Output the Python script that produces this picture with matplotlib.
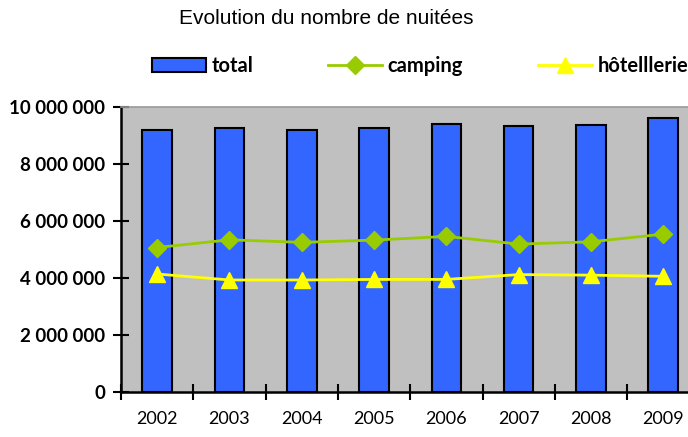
import matplotlib
matplotlib.use("Agg")
import matplotlib.pyplot as plt
from matplotlib.ticker import FuncFormatter, FixedLocator
import numpy as np

years = ["2002", "2003", "2004", "2005", "2006", "2007", "2008", "2009"]
total = [9.20e6, 9.26e6, 9.18e6, 9.28e6, 9.41e6, 9.32e6, 9.38e6, 9.62e6]
camping = [5.07e6, 5.34e6, 5.25e6, 5.33e6, 5.46e6, 5.19e6, 5.27e6, 5.54e6]
hotellerie = [4.14e6, 3.93e6, 3.93e6, 3.95e6, 3.95e6, 4.12e6, 4.10e6, 4.06e6]
y_ticks = [0, 2e6, 4e6, 6e6, 8e6, 10e6]

W, H = 688, 437
fig = plt.figure(figsize=(W / 100, H / 100), dpi=100)
fig.patch.set_facecolor("white")

# Plot area runs past the right edge of the figure
ax = fig.add_axes([121 / W, 45 / H, 578.4 / W, 285 / H])
ax.set_facecolor("#C0C0C0")

x = np.arange(len(years))
bars = ax.bar(x, total, width=0.41, color="#3366FF", edgecolor="black",
              linewidth=1.5, zorder=2, label="total")
ln_c, = ax.plot(x, camping, color="#99CC00", lw=2, marker="D", ms=9.5,
                zorder=3, label="camping")
ln_h, = ax.plot(x, hotellerie, color="#FFFF00", lw=2, marker="^", ms=12,
                zorder=3, label="hôtelllerie")

ax.set_xlim(-0.5, len(years) - 0.5)
ax.set_ylim(0, 10e6)

ax.yaxis.set_major_locator(FixedLocator(y_ticks))
ax.yaxis.set_major_formatter(
    FuncFormatter(lambda v, p: f"{int(v):,}".replace(",", " ")))
ax.tick_params(axis="y", direction="inout", length=11, width=1.5, pad=6,
               labelsize=13.5)
for t in ax.get_yticklabels():
    t.set_fontfamily("Lato")
    t.set_fontweight("bold")

# category boundaries carry the tick marks, labels sit in the middle
ax.xaxis.set_major_locator(FixedLocator(np.arange(-0.5, len(years), 1.0)))
ax.xaxis.set_major_formatter(FuncFormatter(lambda v, p: ""))
ax.xaxis.set_minor_locator(FixedLocator(x))
ax.set_xticklabels(years, minor=True)
ax.tick_params(axis="x", which="major", direction="inout", length=11,
               width=1.5)
ax.tick_params(axis="x", which="minor", length=0, pad=14, labelsize=13)
for t in ax.get_xticklabels(minor=True):
    t.set_fontfamily("Lato")

for side in ("left", "bottom"):
    ax.spines[side].set_linewidth(1.8)
    ax.spines[side].set_color("black")
ax.spines["top"].set_color("#9A9A9A")
ax.spines["top"].set_linewidth(1.2)
ax.spines["right"].set_visible(False)

fig.text(326 / W, 1 - 18 / H, "Evolution du nombre de nuitées",
         ha="center", va="center", fontsize=15, family="Liberation Sans")

# one legend entry per series, each placed on the header row
leg_prop = {"family": "Lato", "weight": "bold", "size": 14.5}
entries = [(bars, "total", 152), (ln_c, "camping", 328),
           (ln_h, "hôtelllerie", 538)]
for handle, name, x0 in entries:
    lg = fig.legend(handles=[handle], labels=[name], loc="center left",
                    bbox_to_anchor=(x0 / W, 1 - 66 / H), frameon=False,
                    handlelength=2.7, handletextpad=0.25, borderaxespad=0,
                    borderpad=0, prop=leg_prop)

fig.savefig("out.png", dpi=100)
